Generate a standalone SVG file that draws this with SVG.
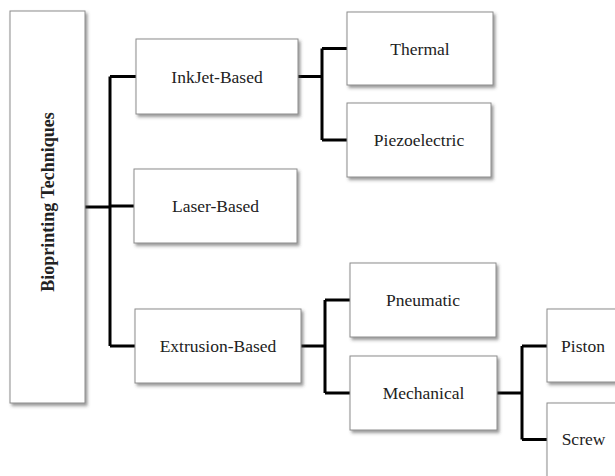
<svg xmlns="http://www.w3.org/2000/svg" width="615" height="476" viewBox="0 0 615 476">
<style>
.box{fill:#fff;stroke:#8c8c8c;stroke-width:1;filter:url(#sh)}
.t{font-family:"Liberation Serif","Times New Roman",serif;font-size:17.5px;fill:#222;text-anchor:middle}
.b{font-weight:bold;font-size:18px}
.c{fill:none;stroke:#000;stroke-width:3;stroke-linejoin:miter;stroke-linecap:butt}
</style>
<defs>
<filter id="sh" x="-10%" y="-10%" width="130%" height="130%">
<feDropShadow dx="2" dy="2.5" stdDeviation="1.5" flood-color="#444" flood-opacity="0.55"/>
</filter>
</defs>
<rect width="615" height="476" fill="#fff"/>
<g id="connectors">
<path class="c" d="M85,207 H110 M110,76.5 V346 M110,76.5 H136 M110,206 H134 M110,346 H135"/>
<path class="c" d="M298,76.5 H322 M322,48.5 V140 M322,48.5 H347 M322,140 H347"/>
<path class="c" d="M301,346 H325 M325,300 V393 M325,300 H350 M325,393 H350"/>
<path class="c" d="M497,393 H522 M522,346 V439.5 M522,346 H547 M522,439.5 H547"/>
</g>
<g id="root">
<rect class="box" x="10" y="11" width="75" height="392"/>
<text class="t b" transform="translate(54,202) rotate(-90)">Bioprinting Techniques</text>
</g>
<g id="inkjet">
<rect class="box" x="136" y="39" width="162" height="75"/>
<text class="t" x="217" y="82.5">InkJet-Based</text>
</g>
<g id="laser">
<rect class="box" x="134" y="169" width="163" height="74"/>
<text class="t" x="215.5" y="212">Laser-Based</text>
</g>
<g id="extrusion">
<rect class="box" x="135" y="309" width="166" height="74"/>
<text class="t" x="218" y="352">Extrusion-Based</text>
</g>
<g id="thermal">
<rect class="box" x="347" y="12" width="146" height="73"/>
<text class="t" x="420" y="54.5">Thermal</text>
</g>
<g id="piezoelectric">
<rect class="box" x="347" y="103" width="144" height="74"/>
<text class="t" x="419" y="146">Piezoelectric</text>
</g>
<g id="pneumatic">
<rect class="box" x="350" y="263" width="146" height="74"/>
<text class="t" x="423" y="306">Pneumatic</text>
</g>
<g id="mechanical">
<rect class="box" x="350" y="356" width="147" height="74"/>
<text class="t" x="423.5" y="399">Mechanical</text>
</g>
<g id="piston">
<rect class="box" x="547" y="309" width="80" height="73"/>
<text class="t" x="583" y="351.5">Piston</text>
</g>
<g id="screw">
<rect class="box" x="547" y="403" width="80" height="75"/>
<text class="t" x="583.5" y="445">Screw</text>
</g>
</svg>
